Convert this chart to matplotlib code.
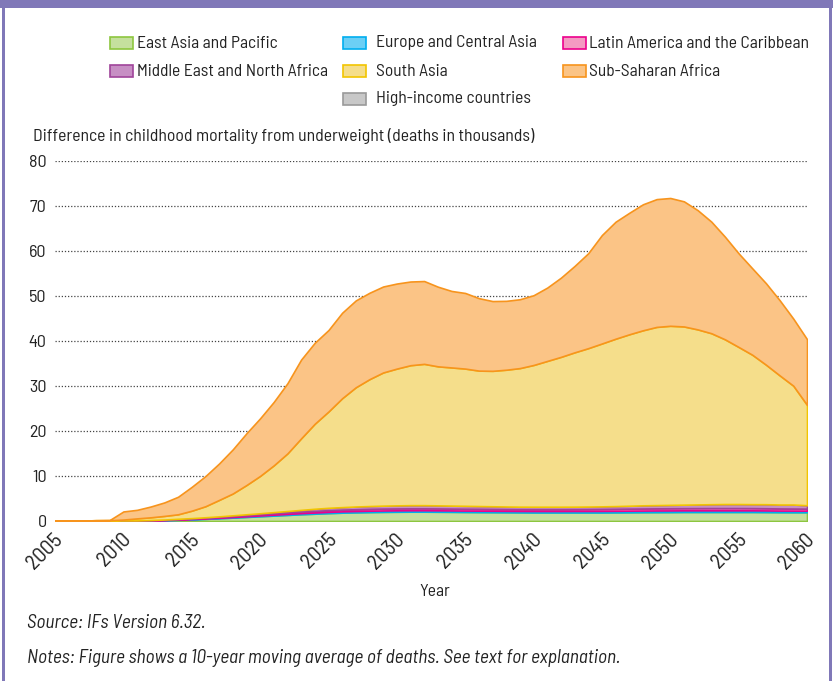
import matplotlib
matplotlib.use("Agg")
import matplotlib.pyplot as plt
from matplotlib.patches import Rectangle
from matplotlib import font_manager
import matplotlib.transforms as mtransforms

years = list(range(2005, 2061))

east_asia = [0, 0, 0, 0, 0, 0.02, 0.05, 0.1, 0.17, 0.25, 0.35, 0.47, 0.6, 0.75, 0.9,
             1.05, 1.2, 1.35, 1.5, 1.62, 1.75, 1.85, 1.92, 1.98, 2.02, 2.05, 2.07, 2.07, 2.05, 2.03,
             2.0, 1.98, 1.96, 1.94, 1.92, 1.9, 1.9, 1.9, 1.9, 1.9, 1.9, 1.92, 1.94, 1.96, 1.97,
             1.98, 2.0, 2.0, 2.0, 2.0, 2.0, 2.0, 1.98, 1.96, 1.95, 1.95]
europe = [0, 0, 0, 0, 0, 0, 0.01, 0.02, 0.03, 0.05, 0.07, 0.09, 0.11, 0.13, 0.15,
          0.18, 0.2, 0.22, 0.24, 0.26, 0.28, 0.29, 0.3, 0.31, 0.32, 0.32, 0.32, 0.32, 0.32, 0.32,
          0.32, 0.32, 0.32, 0.32, 0.32, 0.33, 0.33, 0.33, 0.34, 0.34, 0.35, 0.35, 0.36, 0.36, 0.37,
          0.37, 0.37, 0.37, 0.37, 0.37, 0.37, 0.37, 0.37, 0.36, 0.36, 0.35]
latin_america = [0, 0, 0, 0, 0, 0, 0.02, 0.04, 0.06, 0.09, 0.12, 0.15, 0.18, 0.21, 0.24,
                 0.27, 0.3, 0.32, 0.34, 0.36, 0.38, 0.39, 0.4, 0.41, 0.42, 0.42, 0.42, 0.42, 0.42, 0.41,
                 0.41, 0.41, 0.4, 0.4, 0.4, 0.4, 0.4, 0.4, 0.41, 0.42, 0.43, 0.44, 0.45, 0.46, 0.47,
                 0.48, 0.48, 0.49, 0.5, 0.5, 0.5, 0.49, 0.48, 0.47, 0.46, 0.45]
middle_east = [0.08, 0.1, 0.1, 0.12, 0.12, 0.1, 0.05, 0.06, 0.07, 0.1, 0.1, 0.12, 0.14, 0.17, 0.2,
               0.22, 0.27, 0.33, 0.39, 0.48, 0.52, 0.55, 0.6, 0.62, 0.65, 0.68, 0.71, 0.71, 0.68, 0.66,
               0.64, 0.61, 0.59, 0.56, 0.54, 0.54, 0.54, 0.54, 0.53, 0.55, 0.57, 0.6, 0.64, 0.7, 0.72,
               0.75, 0.78, 0.82, 0.86, 0.9, 0.9, 0.88, 0.9, 0.87, 0.89, 0.75]
south_asia = [0, 0, 0, 0.05, 0.05, 0.2, 0.45, 0.6, 0.8, 1.0, 1.65, 2.45, 3.65, 4.85, 6.5,
              8.3, 10.4, 12.8, 15.9, 18.9, 21.4, 24.2, 26.5, 28.2, 29.6, 30.4, 31.1, 31.4, 30.9, 30.7,
              30.5, 30.1, 30.1, 30.4, 30.8, 31.5, 32.4, 33.3, 34.3, 35.2, 36.2, 37.2, 38.1, 38.9, 39.6,
              39.8, 39.6, 38.9, 38.0, 36.6, 34.9, 33.2, 31.0, 28.7, 26.4, 22.3]
sub_saharan = [0, 0, 0, 0, 0.05, 1.8, 1.9, 2.4, 3.0, 3.9, 5.3, 6.7, 8.1, 9.8, 11.5,
               12.8, 14.1, 15.6, 17.5, 18.0, 18.1, 19.0, 19.3, 19.2, 19.1, 18.9, 18.6, 18.4, 17.7, 17.0,
               16.8, 16.1, 15.5, 15.3, 15.3, 15.5, 16.3, 17.6, 19.2, 21.1, 24.1, 26.0, 27.0, 28.0, 28.4,
               28.4, 27.8, 26.5, 24.8, 22.8, 20.8, 19.2, 18.1, 16.7, 14.9, 14.6]
high_income = [0.0] * 56

series_names = ["East Asia and Pacific", "Europe and Central Asia", "Latin America and the Caribbean",
                "Middle East and North Africa", "South Asia", "Sub-Saharan Africa", "High-income countries"]
fills = ["#c5e09e", "#6ccff5", "#f49ac2", "#c78fc4", "#f5de8b", "#fbc486", "#c8c8c8"]
edges = ["#8dc63f", "#00aeef", "#ec008c", "#a0449a", "#f2c500", "#f7941d", "#9a9a9a"]

yticks = [0, 10, 20, 30, 40, 50, 60, 70, 80]
xticks = list(range(2005, 2061, 5))

avail = {f.name for f in font_manager.fontManager.ttflist}
base = "Barlow Semi Condensed" if "Barlow Semi Condensed" in avail else "DejaVu Sans"
plt.rcParams['font.family'] = [base, 'DejaVu Sans']
FS = 12.6
FS_IT = 13.9

W, H = 833, 681
fig = plt.figure(figsize=(W / 100, H / 100), dpi=100)
fig.patch.set_facecolor("white")

def fx(px):
    return px / W

def fy(py):
    return 1 - py / H

ax = fig.add_axes([fx(55), fy(521), fx(807) - fx(55), fy(161) - fy(521)])
data = [east_asia, europe, latin_america, middle_east, south_asia, sub_saharan, high_income]

bottom = [0.0] * len(years)
for i, (vals, fc, ec) in enumerate(zip(data, fills, edges)):
    top = [b + v for b, v in zip(bottom, vals)]
    if any(v > 0 for v in vals):
        ax.fill_between(years, bottom, top, facecolor=fc, edgecolor=ec, lw=1.2, zorder=2 + i * 0.1)
    bottom = top

ax.set_xlim(2005, 2060)
ax.set_ylim(0, 80)
for v in yticks[1:]:
    ax.axhline(v, color="#444444", lw=0.9, ls=(0, (1, 1.5)), zorder=1)
ax.axhline(0, color="#999999", lw=0.9, ls=(0, (1, 1.5)), zorder=1)
for s in ax.spines.values():
    s.set_visible(False)
ax.set_yticks(yticks)
ax.set_yticklabels([str(v) for v in yticks], fontsize=13, color="#222222")
ax.tick_params(axis="y", length=0, pad=6)
ax.set_xticks(xticks)
ax.set_xticklabels([str(v) for v in xticks], rotation=45, ha="right", va="center",
                   rotation_mode="anchor", fontsize=15.5, color="#222222")
ax.tick_params(axis="x", length=0, pad=11)
off = mtransforms.ScaledTranslation(5 / 100, 0, fig.dpi_scale_trans)
for lab in ax.get_xticklabels():
    lab.set_transform(lab.get_transform() + off)
ax.patch.set_alpha(0)

fig.text(fx(33), fy(136), "Difference in childhood mortality from underweight (deaths in thousands)",
         fontsize=FS + 0.2, ha="left", va="center", color="#222222")
fig.text(fx(435), fy(591), "Year", fontsize=FS, ha="center", va="center", color="#222222")
fig.text(fx(27), fy(623), "Source: IFs Version 6.32.", fontsize=FS_IT, style="italic",
         ha="left", va="center", color="#222222")
fig.text(fx(27), fy(658), "Notes: Figure shows a 10-year moving average of deaths. See text for explanation.",
         fontsize=FS_IT, style="italic", ha="left", va="center", color="#222222")

# legend
leg_pos = [(110, 43), (343, 43), (563, 43), (110, 71), (343, 71), (563, 71), (343, 99)]
text_gap = [27, 33, 26, 27, 33, 26, 33]
for (px, py), name, fc, ec, g in zip(leg_pos, series_names, fills, edges, text_gap):
    fig.patches.append(Rectangle((fx(px), fy(py + 6)), fx(23), 12 / H, transform=fig.transFigure,
                                 facecolor=fc, edgecolor=ec, lw=1.2))
    fig.text(fx(px + g), fy(py), name, fontsize=FS, ha="left", va="center", color="#222222")

# frame
purple = "#8078b8"
fig.patches.append(Rectangle((0, fy(8)), 1, 8 / H, transform=fig.transFigure, facecolor=purple,
                             edgecolor="none"))
fig.patches.append(Rectangle((fx(2), 0), 3 / W, 1, transform=fig.transFigure, facecolor=purple,
                             edgecolor="none"))
fig.patches.append(Rectangle((fx(829), 0), 3 / W, 1, transform=fig.transFigure, facecolor=purple,
                             edgecolor="none"))

fig.savefig("out.png", dpi=100)
